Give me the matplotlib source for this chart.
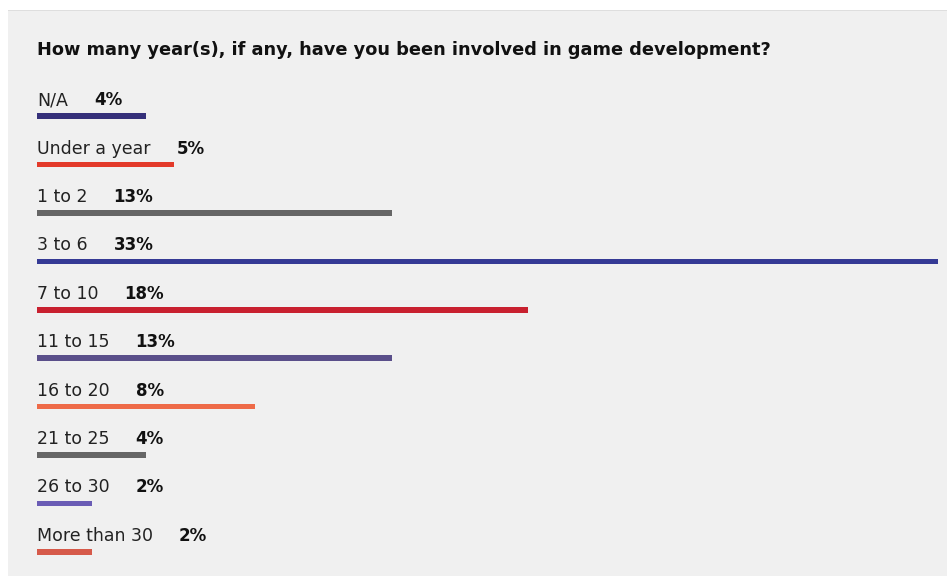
import matplotlib.pyplot as plt
from matplotlib.patches import Rectangle

categories = ["N/A", "Under a year", "1 to 2", "3 to 6", "7 to 10",
              "11 to 15", "16 to 20", "21 to 25", "26 to 30", "More than 30"]
values = [4, 5, 13, 33, 18, 13, 8, 4, 2, 2]
colors = ["#35307a", "#e33a2a", "#666666", "#353a95", "#c8202f",
          "#5a4f8a", "#ee6a48", "#666666", "#6a5cb5", "#d65a4a"]
title = "How many year(s), if any, have you been involved in game development?"

W, H = 947, 576
fig = plt.figure(figsize=(W / 100, H / 100), dpi=100)
fig.patch.set_facecolor("white")

# light grey card behind the chart
fig.patches.append(Rectangle((8 / W, 0), 1 - 8 / W, (H - 11) / H,
                             transform=fig.transFigure, facecolor="#f0f0f0",
                             edgecolor="none", zorder=-2))
fig.patches.append(Rectangle((8 / W, (H - 11) / H), 1 - 8 / W, 1 / H,
                             transform=fig.transFigure, facecolor="#dedede",
                             edgecolor="none", zorder=-2))

fig.text(37 / W, (H - 50) / H, title, fontsize=12.8, fontweight="bold",
         color="#111111", va="center", ha="left")

row = 48.4
ax = fig.add_axes([37 / W, 0, 901 / W, 10 * row / H])
ax.set_facecolor("none")
ax.set_xlim(0, 33)
ax.set_ylim(9.5, -0.5)
ax.axis("off")

idx = list(range(len(categories)))
ax.barh(idx, values, height=5.5 / row, color=colors, left=0)

for i, (cat, v) in enumerate(zip(categories, values)):
    t = ax.text(0, i - 16 / row, cat, fontsize=12.5, color="#222222",
                va="center", ha="left")
    ax.annotate(f"{v}%", xy=(1, 0.5), xycoords=t, xytext=(26, 0),
                textcoords="offset pixels", fontsize=12, fontweight="bold",
                color="#111111", va="center", ha="left")

fig.savefig("out.png", dpi=100)
